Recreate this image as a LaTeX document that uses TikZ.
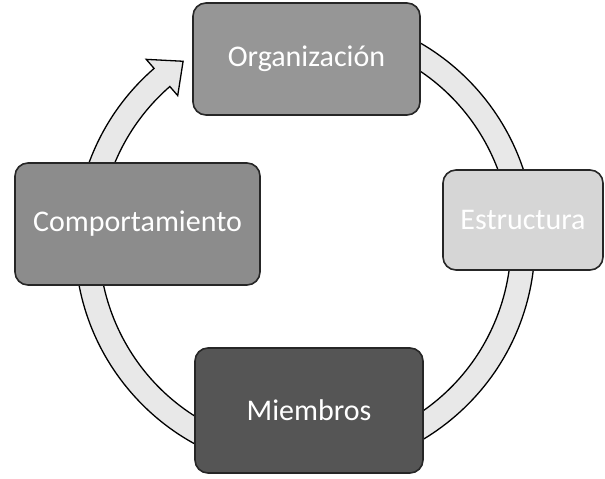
\documentclass[tikz,border=0pt]{standalone}
\usepackage{fontspec}
\setmainfont{Carlito}
\usetikzlibrary{positioning,shapes,arrows,calc}

\definecolor{ringgray}{RGB}{232, 232, 232}
\definecolor{topgray}{RGB}{150, 150, 150}
\definecolor{rightgray}{RGB}{214, 214, 214}
\definecolor{leftgray}{RGB}{140, 140, 140}
\definecolor{bottomgray}{RGB}{85, 85, 85}

\begin{document}
\begin{tikzpicture}[x=1pt,y=1pt,
    box/.style={draw=black!85,line width=1.6pt,rounded corners=13pt,inner sep=0pt,
      text=white,font=\fontsize{30}{36}\selectfont}]
    \useasboundingbox (0,0) rectangle (605,479);
    \coordinate (c) at (305,237);
    % ring with its arrow head
    \filldraw[fill=ringgray,draw=black,line width=1.3pt]
      ($(c)+(131:230)$) arc (131:430:230) -- ($(c)+(430:206)$) arc (430:131:206)
      -- ($(c)+(131:194)$) -- ($(c)+(124:218)$) -- ($(c)+(131:242)$) -- cycle;
    \node[box,fill=topgray,minimum width=227,minimum height=112] (org) at (306.5,420) {Organización};
    \node[box,fill=rightgray,minimum width=160,minimum height=100] (est) at (523,259) {Estructura};
    \node[box,fill=leftgray,minimum width=245,minimum height=122] (comp) at (137.5,255) {Comportamiento};
    \node[box,fill=bottomgray,minimum width=228,minimum height=125] (miem) at (309,68.5) {Miembros};
\end{tikzpicture}
\end{document}
